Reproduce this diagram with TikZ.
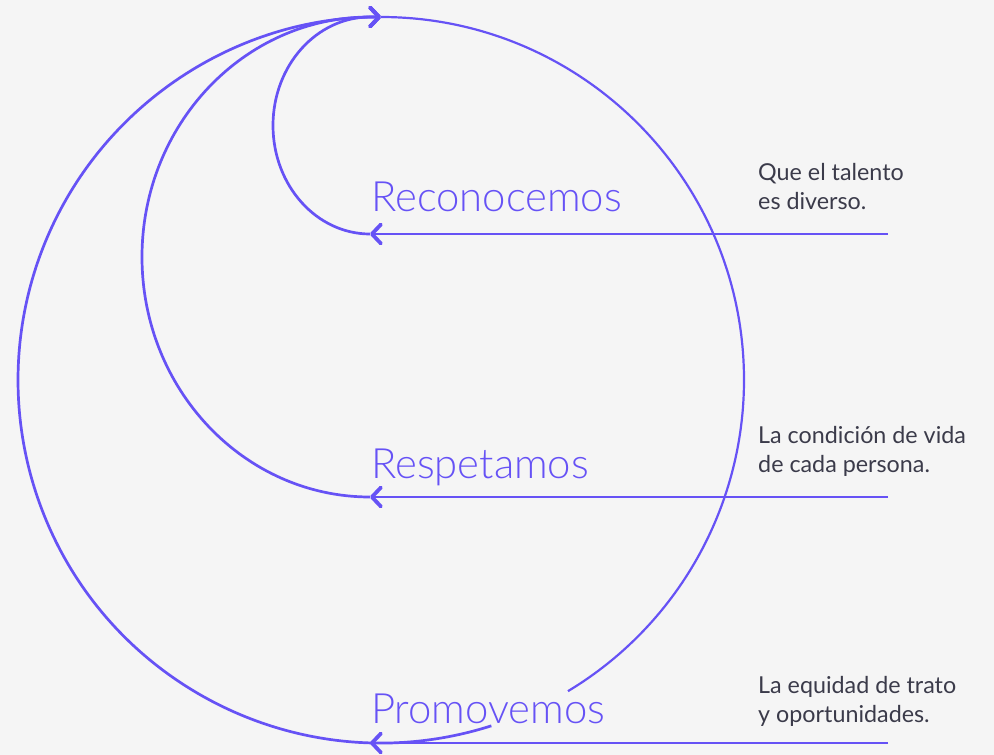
\documentclass[tikz,border=0pt]{standalone}
\usepackage{fontspec}
\setmainfont{Lato}
\newfontfamily\wordfont{Lato Light}
\usetikzlibrary{arrows.meta,positioning,calc}
\definecolor{lila}{HTML}{6652F5}
\definecolor{ink}{HTML}{3B3B4A}
\definecolor{fondo}{HTML}{F5F5F5}

\begin{document}
\begin{tikzpicture}[x=1pt,y=1pt,
		flow/.style={lila, line width=2.7pt, -{Straight Barb[round, length=9pt, width=19pt, line width=3.8pt]}},
		loop/.style={lila, line width=2.2pt},
		word/.style={lila, anchor=base west, inner sep=0pt, font=\wordfont\fontsize{41.8}{46}\selectfont},
		note/.style={ink, anchor=base west, inner sep=0pt, align=left, font=\fontsize{23.3}{29}\selectfont}]
	% background
	\fill[fondo] (0,0) rectangle (994,-755);
	\useasboundingbox (0,0) rectangle (994,-755);

	% start and tip points
	\coordinate (top) at (381,-17);
	\coordinate (mid) at (381,-380);
	\coordinate (low) at ($(mid)+(-72.3:363)$);
	\foreach \n/\y in {a/234, b/497, c/743} {
		\coordinate (e\n) at (888,-\y);
		\coordinate (t\n) at (370,-\y);
	}

	% words
	\node[word] (rec) at (371,-211) {Reconocemos};
	\node[word] (res) at (371,-478) {Respetamos};
	\node[word] (pro) at (371,-723) {Promovemos};

	% notes (base = last line)
	\node[note] (na) at (758,-209) {Que el talento\\es diverso.};
	\node[note] (nb) at (758,-472) {La condición de vida\\de cada persona.};
	\node[note] (nc) at (758,-722) {La equidad de trato\\y oportunidades.};

	% incoming lines
	\draw[flow] (ea) -- (ta);
	\draw[flow] (eb) -- (tb);
	\draw[flow] (ec) -- (tc);

	% loops back to the top
	\draw[flow] (ta) arc[start angle=-90, end angle=-270, x radius=97, y radius=108.5] -- (top);
	\draw[flow] (tb) arc[start angle=-90, end angle=-270, x radius=228, y radius=240] -- (top);
	\draw[flow] (low) arc[start angle=-72.3, end angle=-270, radius=363];
	\draw[loop] (top) arc[start angle=90, end angle=-59, radius=363];
\end{tikzpicture}
\end{document}
